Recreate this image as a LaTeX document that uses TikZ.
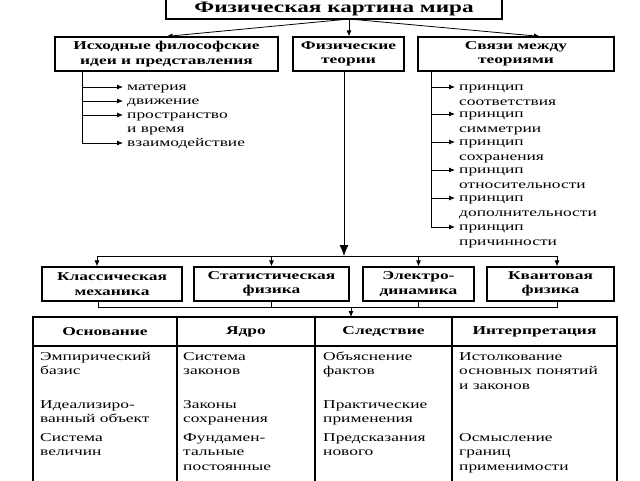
\documentclass[tikz,border=0pt]{standalone}
\usepackage{fontspec}
\setmainfont{Liberation Serif}[FakeStretch=1.45]
\usetikzlibrary{arrows.meta}
\newcommand\fl{\rule{0pt}{10pt}}
\begin{document}
\begin{tikzpicture}[x=1pt,y=-1pt,
  box/.style={draw,line width=1.2pt,inner sep=0pt,align=center,font=\bfseries\fontsize{12}{14.5}\selectfont},
  txt/.style={inner sep=0pt,anchor=north west,align=left,font=\fontsize{12}{14.5}\selectfont},
  rtxt/.style={txt,font=\fontsize{12}{15.3}\selectfont},
  hd/.style={inner sep=0pt,font=\bfseries\fontsize{12}{14.5}\selectfont},
  conn/.style={line width=0.8pt},
  arr/.style={conn,-{Latex[length=6pt,width=5pt]}},
  bigarr/.style={conn,-{Latex[length=11pt,width=9pt]}},
  grid/.style={line width=1.2pt}]
\useasboundingbox (0,0) rectangle (640,480);

% top level
\node[box,font=\bfseries\fontsize{16}{18}\selectfont,minimum width=336pt,minimum height=21pt] (top) at (334,8.5) {Физическая картина мира};
\node[box,minimum width=223pt,minimum height=34pt] (left) at (166.5,54) {Исходные философские\\идеи и представления};
\node[box,minimum width=111pt,minimum height=34pt] (mid) at (348.5,54) {Физические\\теории};
\node[box,minimum width=196pt,minimum height=34pt] (right) at (516,54) {Связи между\\теориями};

\coordinate (hub) at (349,19);
\draw[arr] (hub) -- (left.north);
\draw[arr] (hub) -- (mid.north -| hub);
\draw[arr] (hub) -- ([xshift=24pt]right.north);

% left list
\coordinate (lv) at ([xshift=28pt]left.south west);
\node[txt] (m1) at (127,80) {\fl материя};
\node[txt] (m2) at (127,94) {\fl движение};
\node[txt] (m3) at (127,108) {\fl пространство\\и время};
\node[txt] (m4) at (127,136) {\fl взаимодействие};
\foreach \n in {m1,m2,m3,m4}{
  \coordinate (t\n) at ([xshift=-4pt,yshift=-7pt]\n.north west);
  \draw[arr] (lv |- t\n) -- (t\n);
}
\draw[conn] (lv) -- (lv |- tm4);

% right list
\coordinate (rv) at ([xshift=14pt]right.south west);
\node[rtxt] (p1) at (459,80) {\fl принцип\\соответствия};
\node[rtxt] (p2) at (459,107) {\fl принцип\\симметрии};
\node[rtxt] (p3) at (459,135) {\fl принцип\\сохранения};
\node[rtxt] (p4) at (459,163) {\fl принцип\\относительности};
\node[rtxt] (p5) at (459,191) {\fl принцип\\дополнительности};
\node[rtxt] (p6) at (459,220) {\fl принцип\\причинности};
\foreach \n in {p1,p2,p3,p4,p5,p6}{
  \coordinate (t\n) at ([xshift=-4pt,yshift=-7pt]\n.north west);
  \draw[arr] (rv |- t\n) -- (t\n);
}
\draw[conn] (rv) -- (rv |- tp6);

% theories
\node[box,minimum width=140pt,minimum height=34pt] (b1) at (112,284) {Классическая\\механика};
\node[box,minimum width=155pt,minimum height=34pt] (b2) at (271.5,284) {Статистическая\\физика};
\node[box,minimum width=111pt,minimum height=34pt] (b3) at (418.5,284) {Электро-\\динамика};
\node[box,minimum width=127pt,minimum height=34pt] (b4) at (550.5,284) {Квантовая\\физика};

\coordinate (bt) at (344,256);
\coordinate (bt1) at (97,256);
\coordinate (bt4) at (557,256);
\draw[bigarr] (mid.south -| bt) -- (bt);
\draw[conn] (bt1) -- (bt4);
\draw[arr] (bt1) -- (bt1 |- b1.north);
\draw[arr] (b2.north |- bt1) -- (b2.north);
\draw[arr] (b3.north |- bt1) -- (b3.north);
\draw[arr] (bt4) -- (bt4 |- b4.north);

\coordinate (bb1) at (98,307);
\coordinate (bb4) at (557,307);
\draw[conn] (bb1 |- b1.south) -- (bb1) -- (bb4) -- (bb4 |- b4.south);
\draw[conn] (b2.south) -- (b2.south |- bb1);
\draw[conn] (b3.south) -- (b3.south |- bb1);
\coordinate (tt) at (351,317);
\draw[arr] (tt |- bb1) -- (tt);

% table
\draw[grid] (33,485) -- (33,317) -- (617,317) -- (617,485);
\draw[grid] (33,346) -- (617,346);
\foreach \x in {177,315,452} \draw[grid] (\x,317) -- (\x,485);
\node[hd] (h1) at (105,332) {Основание};
\node[hd] (h2) at (246,332) {Ядро};
\node[hd] (h3) at (383.5,332) {Следствие};
\node[hd] (h4) at (534.5,332) {Интерпретация};

\node[txt] (c11) at (40,350) {\fl Эмпирический\\базис};
\node[txt] (c12) at (40,398) {\fl Идеализиро-\\ванный объект};
\node[txt] (c13) at (40,431) {\fl Система\\величин};
\node[txt] (c21) at (183,350) {\fl Система\\законов};
\node[txt] (c22) at (183,398) {\fl Законы\\сохранения};
\node[txt] (c23) at (183,431) {\fl Фундамен-\\тальные\\постоянные};
\node[txt] (c31) at (323,350) {\fl Объяснение\\фактов};
\node[txt] (c32) at (323,398) {\fl Практические\\применения};
\node[txt] (c33) at (323,431) {\fl Предсказания\\нового};
\node[txt] (c41) at (459,350) {\fl Истолкование\\основных понятий\\и законов};
\node[txt] (c43) at (459,431) {\fl Осмысление\\границ\\применимости};
\end{tikzpicture}
\end{document}
